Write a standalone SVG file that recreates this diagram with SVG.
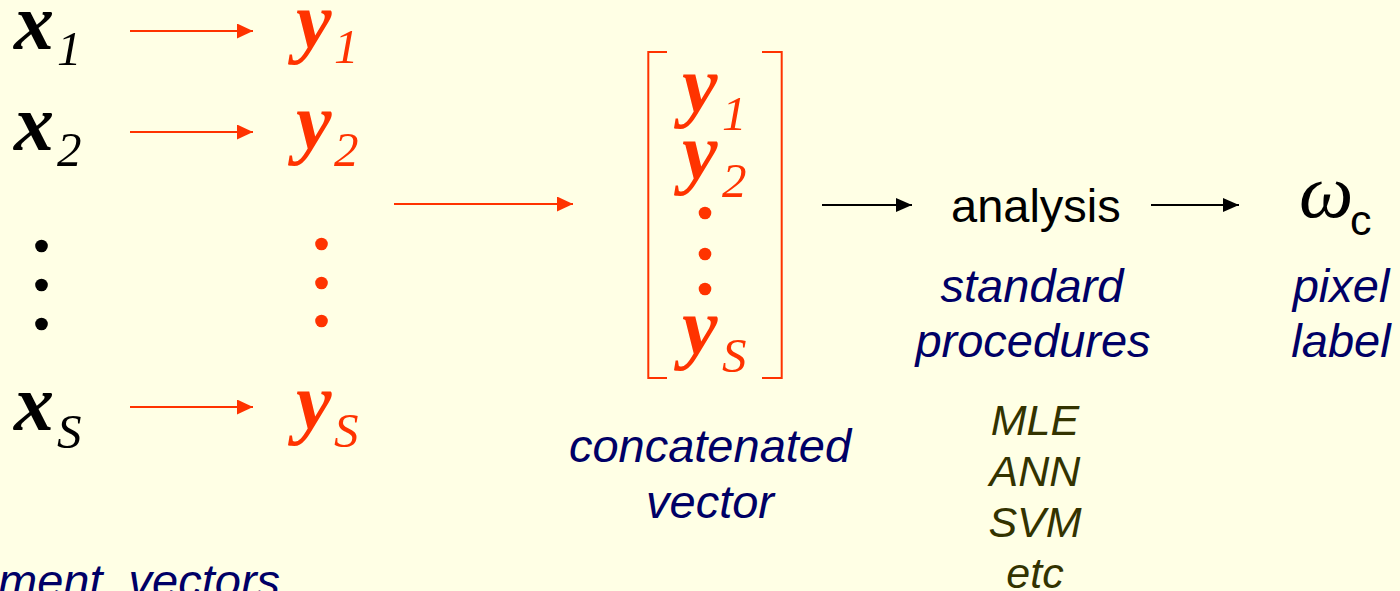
<svg xmlns="http://www.w3.org/2000/svg" width="1400" height="591" viewBox="0 0 1400 591">
<defs>
<marker id="ar" markerUnits="userSpaceOnUse" markerWidth="17" markerHeight="16" refX="16" refY="7.5" orient="auto"><path d="M0,0 L16,7.5 L0,15 Z" fill="#FF3300"/></marker>
<marker id="ab" markerUnits="userSpaceOnUse" markerWidth="17" markerHeight="16" refX="16" refY="7" orient="auto"><path d="M0,0 L16,7 L0,14 Z" fill="#000"/></marker>
<style>
.mx{font-family:"Liberation Serif","Times New Roman",serif;font-style:italic;font-weight:bold;font-size:80px}
.sb{font-family:"Liberation Serif","Times New Roman",serif;font-style:italic;font-weight:normal;font-size:49px}
.k{fill:#000}
.r{fill:#FF3300}
.lab{font-family:"Liberation Sans",Arial,sans-serif;font-style:italic;font-size:47px;fill:#000066;text-anchor:middle}
.alg{font-family:"Liberation Sans",Arial,sans-serif;font-style:italic;font-size:43px;fill:#333300;text-anchor:middle}
.ra{stroke:#FF3300;stroke-width:2;fill:none;marker-end:url(#ar)}
.ba{stroke:#000;stroke-width:2;fill:none;marker-end:url(#ab)}
</style>
</defs>
<rect width="1400" height="591" fill="#FFFFE5"/>

<g id="x1"><text class="mx k" x="14" y="49">x</text><text class="sb k" x="57" y="65">1</text></g>
<g id="x2"><text class="mx k" x="14" y="150">x</text><text class="sb k" x="57" y="166">2</text></g>
<g id="xdots" class="k"><circle cx="41.5" cy="246" r="6.3"/><circle cx="41.5" cy="285" r="6.3"/><circle cx="41.5" cy="324" r="6.3"/></g>
<g id="xS"><text class="mx k" x="14" y="430">x</text><text class="sb k" x="57" y="448">S</text></g>

<g id="y1"><text class="mx r" x="296" y="48">y</text><text class="sb r" x="334" y="63">1</text></g>
<g id="y2"><text class="mx r" x="296" y="149">y</text><text class="sb r" x="334" y="166">2</text></g>
<g id="ydots" class="r"><circle cx="321.5" cy="244" r="6.3"/><circle cx="321.5" cy="283" r="6.3"/><circle cx="321.5" cy="321" r="6.3"/></g>
<g id="yS"><text class="mx r" x="296" y="429">y</text><text class="sb r" x="334" y="447">S</text></g>

<g id="concat">
<path d="M667,52 H648.3 V378 H667 M762,52 H781.7 V378 H762" fill="none" stroke="#FF3300" stroke-width="2"/>
<text class="mx r" x="682" y="112">y</text><text class="sb r" x="722" y="130">1</text>
<text class="mx r" x="682" y="179">y</text><text class="sb r" x="722" y="197">2</text>
<g class="r"><circle cx="705" cy="213" r="6.3"/><circle cx="705" cy="254" r="6.3"/><circle cx="705" cy="289" r="6.3"/></g>
<text class="mx r" x="682" y="354">y</text><text class="sb r" x="722" y="372">S</text>
</g>

<g id="analysis"><text x="951" y="222" style="font-family:'Liberation Sans',Arial,sans-serif;font-size:47px;fill:#000">analysis</text></g>
<g id="omega"><text x="1299" y="217" style="font-family:'Liberation Serif','Times New Roman',serif;font-style:italic;font-size:77px;fill:#000">ω</text><text x="1350" y="235" style="font-family:'Liberation Sans',Arial,sans-serif;font-size:43px;fill:#000">c</text></g>

<g id="labels">
<text class="lab" x="-2" y="597" style="text-anchor:start;white-space:pre">ment  vectors</text>
<text class="lab" x="710" y="462">concatenated</text>
<text class="lab" x="710" y="518">vector</text>
<text class="lab" x="1032" y="302">standard</text>
<text class="lab" x="1033" y="357">procedures</text>
<text class="lab" x="1341" y="302">pixel</text>
<text class="lab" x="1341" y="357">label</text>
<text class="alg" x="1035" y="435">MLE</text>
<text class="alg" x="1035" y="486">ANN</text>
<text class="alg" x="1035" y="537">SVM</text>
<text class="alg" x="1035" y="588">etc</text>
</g>

<g id="connectors">
<line class="ra" x1="130" y1="31" x2="253" y2="31"/>
<line class="ra" x1="130" y1="132" x2="253" y2="132"/>
<line class="ra" x1="130" y1="407" x2="253" y2="407"/>
<line class="ra" x1="394" y1="204" x2="573" y2="204"/>
<line class="ba" x1="822" y1="205" x2="912" y2="205"/>
<line class="ba" x1="1151" y1="205" x2="1239" y2="205"/>
</g>
</svg>
